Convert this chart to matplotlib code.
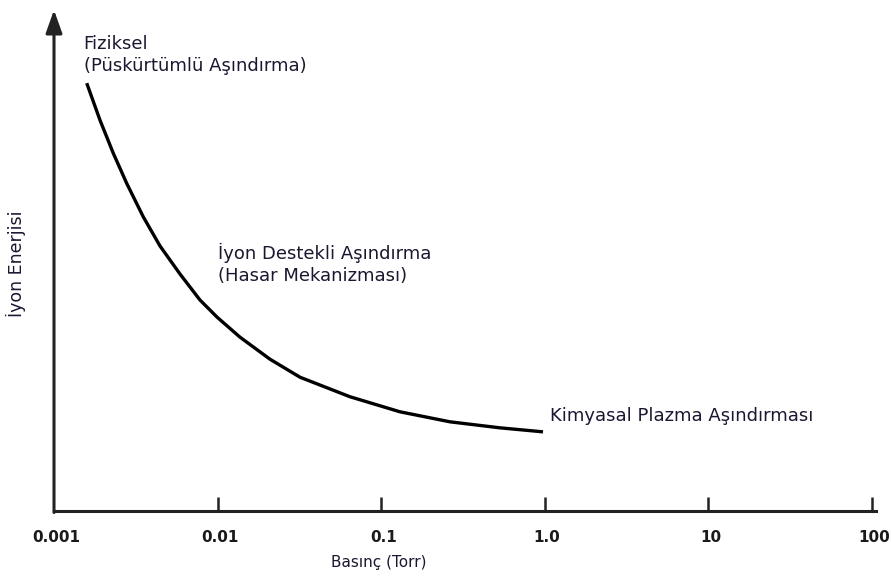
import matplotlib
matplotlib.use("Agg")
import matplotlib.pyplot as plt
from matplotlib.transforms import offset_copy

# Data (pressure in Torr, ion energy in arbitrary units 0-100)
pressure = [0.001585, 0.001911, 0.002304, 0.002782, 0.003515, 0.004445, 0.005892,
            0.00781, 0.00992, 0.0137, 0.0209, 0.0319, 0.0645, 0.1303, 0.2634,
            0.5322, 0.975]
energy = [85.4, 78.0, 71.4, 65.4, 58.7, 52.9, 47.3,
          42.1, 38.7, 34.7, 30.3, 26.7, 22.8, 19.8, 17.8,
          16.6, 15.8]

tick_values = [0.01, 0.1, 1.0, 10, 100]
tick_label_pos = [0.001, 0.01, 0.1, 1.0, 10, 100]
tick_labels_all = ["0.001", "0.01", "0.1", "1.0", "10", "100"]

annotations = [
    ("Fiziksel\n(Püskürtümlü Aşındırma)", 0.00152, 95.0),
    ("İyon Destekli Aşındırma\n(Hasar Mekanizması)", 0.0101, 53.6),
    ("Kimyasal Plazma Aşındırması", 1.07, 20.7),
]

W, H = 891, 579
fig = plt.figure(figsize=(W / 100, H / 100), dpi=100)
left, right, bottom, top = 54, 876, 511, 10
ax = fig.add_axes([left / W, 1 - bottom / H, (right - left) / W, (bottom - top) / H])
ax.set_xscale("log")
xmax = 10 ** (-3 + (right - left) / 163.6)
ax.set_xlim(0.001, xmax)
ax.set_ylim(0, 100)

for s in ["top", "right", "left"]:
    ax.spines[s].set_visible(False)
ax.spines["bottom"].set_linewidth(2.2)
ax.spines["bottom"].set_color("#222222")

# y axis with arrow
ax.annotate("", xy=(0, 1.0), xytext=(0, -0.003), xycoords="axes fraction",
            arrowprops=dict(arrowstyle="-|>,head_length=1.4,head_width=0.5",
                            lw=2.2, color="#222222", shrinkA=0, shrinkB=0))

ax.set_xticks(tick_values)
ax.set_xticklabels([])
ax.minorticks_off()
ax.tick_params(axis="x", direction="in", length=10, width=1.8, color="#222222")
ax.set_yticks([])

fnt = "DejaVu Sans"
lab_tr = offset_copy(ax.get_xaxis_transform(), fig=fig, x=2, y=-26, units="dots")
for lab, pos in zip(tick_labels_all, tick_label_pos):
    ax.text(pos, 0, lab, ha="center", va="center", fontsize=11,
            fontweight="bold", family=fnt, color="#1a1a1a",
            transform=lab_tr, clip_on=False)

ax.plot(pressure, energy, color="black", lw=2.4, solid_joinstyle="round",
        solid_capstyle="butt")

for txt, x, y in annotations:
    ax.text(x, y, txt, ha="left", va="top", fontsize=13, family=fnt,
            color="#1c1630", linespacing=1.3)

fig.text(379 / W, 1 - 562 / H, "Basınç (Torr)", ha="center", va="center",
         fontsize=11, family=fnt, color="#1c1630")
fig.text(16 / W, 1 - 264 / H, "İyon Enerjisi", ha="center", va="center",
         rotation=90, fontsize=12.5, family=fnt, color="#1c1630")

fig.savefig("out.png", dpi=100, facecolor="white")
